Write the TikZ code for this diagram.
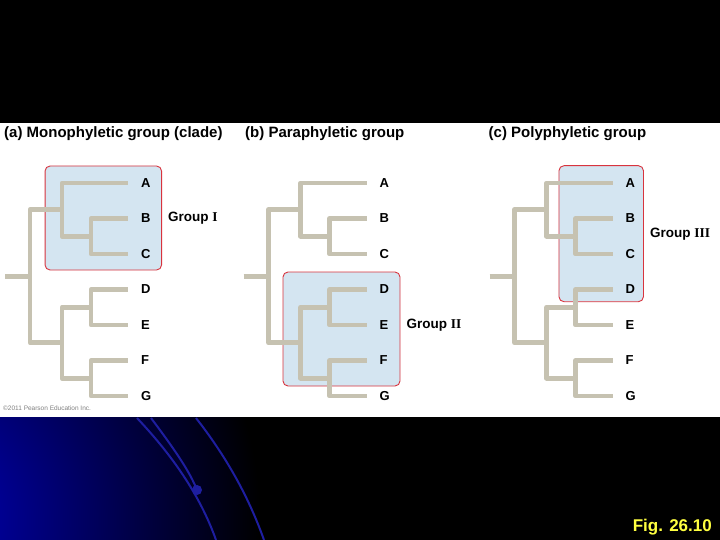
\documentclass[tikz,border=0pt]{standalone}
\usepackage{fontspec}
\setmainfont{Liberation Sans}
\newfontfamily\romanfont{Liberation Serif}
\usetikzlibrary{positioning}
\definecolor{branchgray}{HTML}{C6C2B1}
\definecolor{cladefill}{HTML}{D4E5F1}
\definecolor{cladered}{HTML}{D8343E}
\definecolor{figyellow}{HTML}{FFFF40}
\definecolor{splashblue}{HTML}{0000C8}
\definecolor{arcblue}{HTML}{1E1EA0}
\tikzset{
  branchline/.style={draw=branchgray, line width=4.6pt, line join=round},
  taxonlabel/.style={font=\bfseries\fontsize{13}{15}\selectfont, inner sep=0pt},
  paneltitle/.style={font=\bfseries\fontsize{15}{17}\selectfont, anchor=base west, inner sep=0pt},
  cladebox/.style={draw=cladered, line width=0.9pt, fill=cladefill, rounded corners=5pt, inner sep=0pt},
  grouptext/.style={font=\bfseries\fontsize{13.5}{15}\selectfont, anchor=west, inner sep=0pt},
  arcline/.style={draw=arcblue, line width=2pt},
}

\begin{document}
\begin{tikzpicture}[x=1pt, y=-1pt]
  \path[use as bounding box, fill=black] (0,0) rectangle (720,540);

  % Blue splash below the figure
  \begin{scope}
    \clip (0,417) rectangle (720,540);
    \shade[inner color=splashblue, outer color=black] (-100,520) circle (360);
  \end{scope}
  \draw[arcline] (137,418) .. controls (172,455) and (200,495) .. (216,540);
  \draw[arcline] (151,418) .. controls (175,450) and (190,472) .. (197,490);
  \draw[arcline] (196,418) .. controls (225,455) and (248,495) .. (264,540);
  \fill[arcblue] (197,490) circle (5);

  % White figure panel
  \fill[white] (0,123) rectangle (720,417);

  % Panel titles
  \node[paneltitle] (a-title) at (4,137.5) {(a) Monophyletic group (clade)};
  \node[paneltitle] (b-title) at (245,137.5) {(b) Paraphyletic group};
  \node[paneltitle] (c-title) at (488.5,137.5) {(c) Polyphyletic group};

  % Group boxes (behind the trees)
  \node[cladebox, minimum width=116.5pt, minimum height=104pt] (a-box) at (103.3,218) {};
  \node[cladebox, minimum width=117pt, minimum height=114pt] (b-box) at (341.5,329) {};
  \node[cladebox, minimum width=84.5pt, minimum height=136pt] (c-box) at (601.2,233.7) {};

  % Trees, the same in each panel
  \foreach \p/\dx in {a/0, b/238.5, c/484.5} {
    \begin{scope}[xshift=\dx pt]
      \coordinate (\p-stub) at (5,276.2);
      \coordinate (\p-root) at (30,276.2);
      \coordinate (\p-abc) at (62,209.6);
      \coordinate (\p-bc) at (91,236.25);
      \coordinate (\p-defg) at (62,342.75);
      \coordinate (\p-de) at (91,307.25);
      \coordinate (\p-fg) at (91,378.25);
      \foreach \t/\y in {A/183, B/218.5, C/254, D/289.5, E/325, F/360.5, G/396} {
        \coordinate (\p-\t) at (128,\y);
        \node[taxonlabel, right=13pt of \p-\t] (\p-l\t) {\t};
      }
      \draw[branchline] (\p-stub) -- (\p-root);
      \foreach \u/\v in {root/abc, root/defg, abc/A, abc/bc, bc/B, bc/C,
                         defg/de, defg/fg, de/D, de/E, fg/F, fg/G}
        \draw[branchline] (\p-\u) |- (\p-\v);
    \end{scope}
  }

  % Group labels
  \node[grouptext, right=6pt of a-box.east] (a-group) {Group {\romanfont I}};
  \node[grouptext] (b-group) at ([xshift=6pt]b-box.east |- b-lE) {Group {\romanfont II}};
  \node[grouptext, right=6pt of c-box.east] (c-group) {Group {\romanfont III}};

  \node[font=\fontsize{6.5}{7}\selectfont, text=gray, anchor=base west, inner sep=0pt] (credit) at (3,410) {\textcopyright 2011 Pearson Education Inc.};
  \node[font=\bfseries\fontsize{17}{19}\selectfont, text=figyellow, anchor=base east, inner sep=0pt] (fig) at (712,531) {Fig. 26.10};
\end{tikzpicture}
\end{document}
